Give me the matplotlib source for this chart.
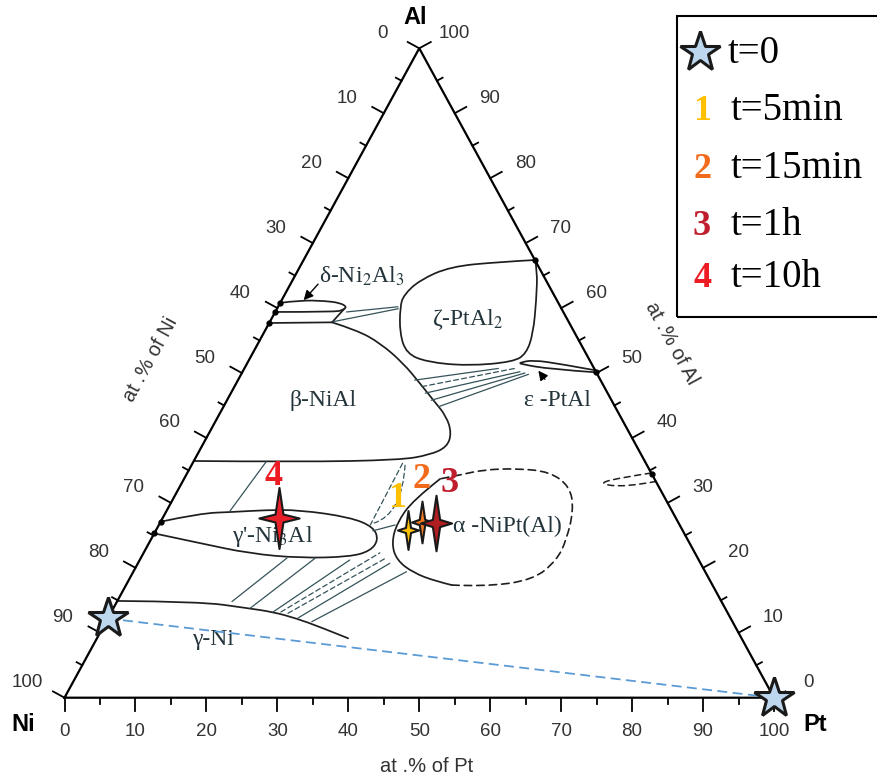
import matplotlib.pyplot as plt
from matplotlib.path import Path
from matplotlib.patches import PathPatch, Rectangle

plt.rcParams['font.family'] = ['Liberation Sans', 'DejaVu Sans']
plt.rcParams['mathtext.fontset'] = 'stix'

# compositions are (at.% Pt, at.% Al), Ni is the balance
major_ticks = list(range(0, 101, 10))
minor_ticks = list(range(5, 100, 10))

# phase boundaries
delta_lens = [(0, 60.8), (2.6, 61.2), (6.2, 61.1), (8.4, 60.8), (9.7, 60.2),
              (9.4, 59.7), (8.4, 59.4), (0, 59.4)]
delta_to_beta = [(9.5, 59.9), (8.8, 57.8)]
beta_top = [(0, 57.7), (8.8, 57.8)]
beta_curve = [(8.8, 57.8), (12.9, 56.6), (17.2, 54.6), (22.0, 51.5), (25.9, 48.4),
              (29.1, 45.8), (32.2, 43.3), (34.2, 40.7), (34.6, 38.6), (32.8, 37.4),
              (29.0, 36.6), (15.0, 36.3), (0, 36.45)]
zeta_curve = [(32.6, 67.4), (27.8, 67.1), (21.2, 66.4), (17.9, 64.3), (16.8, 62.0),
              (17.2, 60.2), (19.2, 56.1), (21.7, 53.0), (25.2, 51.7), (31.2, 51.1),
              (37.4, 51.7), (38.6, 53.0), (38.0, 56.1), (35.9, 61.2), (33.7, 65.9),
              (32.6, 67.4)]
eps_lens = [(49.7, 50.4), (44.2, 51.4), (40.0, 52.0), (38.4, 51.6), (38.5, 51.4),
            (43.1, 50.6), (49.9, 50.1)]
gp_lens = [(0, 27.1), (4.9, 28.4), (9.5, 28.6), (14.0, 28.9), (18.7, 28.9),
           (26.3, 27.8), (30.4, 26.3), (32.1, 24.3), (31.8, 22.6), (29.4, 21.7),
           (22.5, 21.5), (15.0, 22.2), (7.2, 23.8), (0, 25.3)]
alpha_solid = [(36.1, 33.7), (33.9, 30.4), (33.4, 26.9), (34.2, 23.8), (36.2, 21.2),
               (39.6, 19.2), (43.5, 17.9), (45.9, 17.35)]
alpha_dashed = [(45.9, 17.35), (50.5, 17.1), (57.0, 18.1), (58.8, 21.2), (58.6, 24.3),
                (57.3, 28.9), (55.0, 32.5), (51.0, 34.8), (46.1, 35.3), (41.5, 35.1),
                (38.6, 34.3), (36.1, 33.7)]
small_lens = [(65.4, 34.6), (62.0, 34.0), (58.5, 33.0), (62.8, 32.4), (66.7, 33.3)]
gamma_curve = [(0, 14.9), (11.7, 14.8), (18.8, 13.8), (22.8, 13.2), (26.6, 12.2),
               (30.55, 10.9), (35.4, 9.15)]

ties_solid = [
    [(10.05, 59.4), (16.9, 60.2)],
    [(8.9, 57.9), (17.1, 59.9)],
    [(24.9, 48.9), (35.8, 50.7)],
    [(27.4, 46.9), (39.1, 50.2)],
    [(28.8, 45.8), (39.9, 50.0)],
    [(30.3, 44.8), (40.5, 49.8)],
    [(10.25, 36.3), (8.95, 28.75)],
    [(30.6, 25.7), (33.3, 26.6)],
    [(16.2, 14.8), (20.6, 21.5)],
    [(19.3, 13.8), (24.6, 21.5)],
    [(22.8, 13.2), (29.6, 21.2)],
    [(26.8, 12.3), (35.5, 20.7)],
    [(29.0, 11.7), (38.5, 19.4)],
]
ties_dashed = [
    [(26.4, 47.9), (38.1, 50.7)],
    [(29.6, 36.1), (29.8, 26.6)],
    [(30.1, 35.8), (33.4, 28.3), (30.2, 26.9)],
    [(23.9, 13.2), (33.3, 22.3)],
    [(25.0, 13.0), (34.55, 21.5)],
]
edge_marks = [(0, 60.8), (0, 59.4), (0, 57.7), (0, 27.1), (0, 25.3),
              (32.6, 67.4), (49.8, 50.2), (65.5, 34.5)]

phase_names = ["δ-Ni$_2$Al$_3$", "ζ-PtAl$_2$", "β-NiAl", "ε -PtAl",
               "γ'-Ni$_3$Al", "α -NiPt(Al)", "γ-Ni"]
phase_pt = [9.5, 27.65, 13.6, 46.6, 16.9, 49.3, 16.5]
phase_al = [64.9, 58.2, 45.8, 45.7, 24.75, 26.3, 8.9]
arrows = [((4.0, 64.0), (3.0, 60.9)), ((43.6, 48.7), (41.2, 50.7))]

# measured compositions
t0_pt = [0, 100]
t0_al = [12.2, 0]
step_labels = ['1', '2', '3', '4']
step_pt = [35.5, 36.8, 38.9, 16.5]
step_al = [25.8, 27.1, 26.9, 27.6]
step_fill = ['#FFC000', '#F07A22', '#B01E22', '#E8202A']
step_text = ['#FFC000', '#F26A1B', '#BE1E2D', '#ED1C24']
legend_labels = ['t=0', 't=5min', 't=15min', 't=1h', 't=10h']

H = 649.4 / 709.5


def tern(p, a):
    return p + a / 2.0, a * H


def smooth_path(pts):
    xy = [tern(p, a) for p, a in pts]
    if len(xy) < 3:
        return Path(xy)
    verts = [xy[0]]
    codes = [Path.MOVETO]
    for i in range(1, len(xy) - 1):
        if i == len(xy) - 2:
            end = xy[-1]
        else:
            end = ((xy[i][0] + xy[i + 1][0]) / 2, (xy[i][1] + xy[i + 1][1]) / 2)
        verts += [xy[i], end]
        codes += [Path.CURVE3, Path.CURVE3]
    return Path(verts, codes)


def draw(ax, pts, color='#1e1e1e', lw=1.1, ls='-'):
    ax.add_patch(PathPatch(smooth_path(pts), fill=False, ec=color, lw=lw, ls=ls,
                           capstyle='round', zorder=3))


def sparkle(w, k=0.13):
    verts = [(0, 1), (k, k), (w, 0), (k, -k), (0, -1), (-k, -k), (-w, 0), (-k, k),
             (0, 1)]
    codes = [Path.MOVETO] + [Path.LINETO] * 7 + [Path.CLOSEPOLY]
    return Path(verts, codes)


fig = plt.figure(figsize=(8.77, 7.8), dpi=100)
ax = fig.add_axes([0, 0, 1, 1])
ax.set_xlim(-64.5 / 7.095, (877 - 64.5) / 7.095)
ax.set_ylim(-(780 - 697.7) / 7.095, 697.7 / 7.095)
ax.axis('off')

# triangle frame
corners = [tern(0, 0), tern(100, 0), tern(0, 100), tern(0, 0)]
ax.plot([c[0] for c in corners], [c[1] for c in corners], color='k', lw=1.6, zorder=4)

nl = (-0.8776, 0.4794)
nr = (0.8776, 0.4794)
nb = (0.0, -1.0)
tick_col = '#333333'
for v in major_ticks + minor_ticks:
    ln = 1.85 if v in major_ticks else 0.9
    for (x0, y0), n in [(tern(0, 100 - v), nl), (tern(100 - v, v), nr), (tern(v, 0), nb)]:
        ax.plot([x0, x0 + n[0] * ln], [y0, y0 + n[1] * ln], color='k', lw=1.3, zorder=4)
for v in major_ticks:
    ax.annotate(str(v), tern(0, 100 - v), xytext=(-26.6, 10.8), textcoords='offset points',
                ha='center', va='center', fontsize=13.5, color=tick_col)
    ax.annotate(str(v), tern(100 - v, v), xytext=(25.2, 10.8), textcoords='offset points',
                ha='center', va='center', fontsize=13.5, color=tick_col)
    ax.annotate(str(v), tern(v, 0), xytext=(0, -24.5), textcoords='offset points',
                ha='center', va='center', fontsize=13.5, color=tick_col)

# corner and axis labels
ax.annotate('Al', tern(0, 100), xytext=(-2.9, 22.3), textcoords='offset points',
            ha='center', va='center', fontsize=17, fontweight='bold')
ax.annotate('Ni', tern(0, 0), xytext=(-29.5, -19.4), textcoords='offset points',
            ha='center', va='center', fontsize=17, fontweight='bold')
ax.annotate('Pt', tern(100, 0), xytext=(29.5, -19.4), textcoords='offset points',
            ha='center', va='center', fontsize=17, fontweight='bold')
ax.annotate('at .% of Pt', tern(50, 0), xytext=(5, -49.7), textcoords='offset points',
            ha='center', va='center', fontsize=14.5, color=tick_col)
ax.annotate('at .% of Ni', tern(0, 50), xytext=(-65.5, 9.4), textcoords='offset points',
            ha='center', va='center', fontsize=14.5, color=tick_col, rotation=61.35,
            rotation_mode='anchor')
ax.annotate('at .% of Al', tern(50, 50), xytext=(54, 21.6), textcoords='offset points',
            ha='center', va='center', fontsize=14.5, color=tick_col, rotation=-61.35,
            rotation_mode='anchor')

# phase diagram
for curve in [delta_lens, delta_to_beta, beta_top, beta_curve, zeta_curve, eps_lens,
              gp_lens, alpha_solid, gamma_curve]:
    draw(ax, curve, lw=1.25)
draw(ax, alpha_dashed, lw=1.2, ls=(0, (4.5, 3)))
draw(ax, small_lens, lw=1.1, ls=(0, (4, 3)))
for t in ties_solid:
    draw(ax, t, color='#35535a', lw=0.9)
for t in ties_dashed:
    draw(ax, t, color='#35535a', lw=0.9, ls=(0, (4, 2.5)))
ax.plot([tern(p, a)[0] for p, a in edge_marks], [tern(p, a)[1] for p, a in edge_marks],
        'o', color='k', ms=3.5, zorder=5)
for tail, head in arrows:
    ax.annotate('', xy=tern(*head), xytext=tern(*tail),
                arrowprops=dict(arrowstyle='-|>', color='k', lw=1.0, mutation_scale=14),
                zorder=5)
for name, p, a in zip(phase_names, phase_pt, phase_al):
    x, y = tern(p, a)
    ax.text(x, y, name, ha='center', va='center', fontsize=17, color='#23343b',
            family=['Liberation Serif', 'DejaVu Serif'], zorder=4)

# diffusion path and measured points
xs = [tern(p, a)[0] for p, a in zip(t0_pt, t0_al)]
ys = [tern(p, a)[1] for p, a in zip(t0_pt, t0_al)]
ax.plot(xs, ys, color='#5B9BD5', lw=1.3, ls=(0, (5.5, 3)), zorder=6)
ax.plot(xs, ys, ls='none', marker='*', ms=30, mfc='#BDD7EE', mec='#1a1a1a', mew=2.2,
        zorder=8, clip_on=False)

widths = [0.54, 0.5, 0.56, 0.66]
sizes = [28, 30, 40, 44]
label_offsets = [(-7.9, 16.8), (0, 24), (9.6, 22), (-4.3, 24)]
for i in range(4):
    x, y = tern(step_pt[i], step_al[i])
    ax.plot([x], [y], ls='none', marker=sparkle(widths[i]), ms=sizes[i],
            mfc=step_fill[i], mec='#1a1a1a', mew=1.5, zorder=9 + i)
    ax.annotate(step_labels[i], (x, y), xytext=label_offsets[i], textcoords='offset points',
                ha='center', va='baseline', fontsize=26, fontweight='bold',
                color=step_text[i], family=['Liberation Serif', 'DejaVu Serif'], zorder=12)

# legend box
fig.add_artist(Rectangle((677 / 877, 1 - 316.7 / 780), 0.3, (316.7 - 16) / 780,
                         transform=fig.transFigure, fill=False, ec='k', lw=1.5,
                         clip_on=False))
row_y = [0.9188, 0.8462, 0.7714, 0.6987, 0.6321]
ax.plot([0.7982], [0.9333], marker='*', ms=30, mfc='#BDD7EE', mec='#1a1a1a', mew=2.2,
        transform=fig.transFigure, clip_on=False, zorder=10)
for i, lab in enumerate(legend_labels):
    fig.text(0.830 if i == 0 else 0.8335, row_y[i], lab, ha='left', va='baseline',
             fontsize=28, family=['Liberation Serif', 'DejaVu Serif'])
    if i > 0:
        fig.text(0.8005, row_y[i], step_labels[i - 1], ha='center', va='baseline',
                 fontsize=26, fontweight='bold', color=step_text[i - 1],
                 family=['Liberation Serif', 'DejaVu Serif'])

fig.savefig('out.png', dpi=100)
